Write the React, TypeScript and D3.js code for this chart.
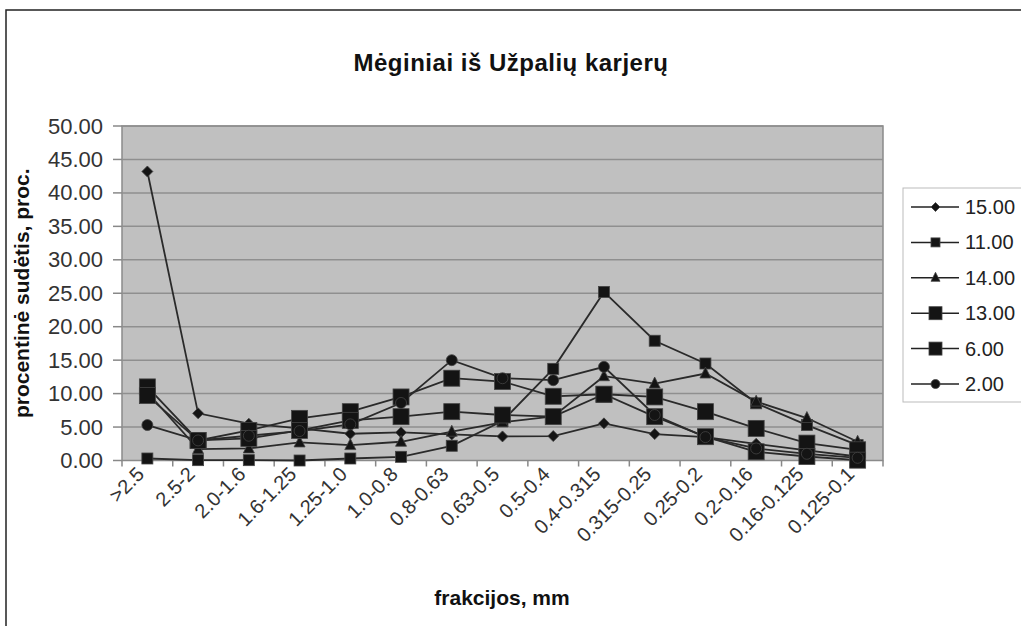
import React from "react";
import * as d3 from "d3";

const categories = [">2.5", "2.5-2", "2.0-1.6", "1.6-1.25", "1.25-1.0", "1.0-0.8", "0.8-0.63", "0.63-0.5", "0.5-0.4", "0.4-0.315", "0.315-0.25", "0.25-0.2", "0.2-0.16", "0.16-0.125", "0.125-0.1"];
const s15 = [43.2, 7.05, 5.5, 4.8, 4.0, 4.2, 3.9, 3.6, 3.65, 5.55, 3.95, 3.5, 2.5, 1.5, 0.6];
const s11 = [0.3, 0.05, 0.05, 0.0, 0.3, 0.55, 2.2, 5.9, 13.7, 25.2, 17.9, 14.5, 8.55, 5.3, 2.3];
const s14 = [10.2, 1.7, 1.8, 2.7, 2.3, 2.8, 4.3, 5.7, 6.6, 12.6, 11.5, 13.0, 8.8, 6.35, 2.8];
const s13 = [11.0, 3.0, 4.5, 6.3, 7.3, 9.5, 12.3, 11.8, 9.6, 9.9, 9.5, 7.3, 4.8, 2.6, 1.6];
const s6 = [9.7, 3.0, 3.3, 4.5, 6.0, 6.55, 7.3, 6.8, 6.55, 9.9, 6.55, 3.56, 1.3, 0.6, 0.05];
const s2 = [5.3, 3.0, 3.7, 4.4, 5.4, 8.6, 15.0, 12.3, 12.0, 14.0, 6.8, 3.5, 1.8, 1.0, 0.4];
const seriesNames = ["15.00", "11.00", "14.00", "13.00", "6.00", "2.00"];
const yTicks = [0, 5, 10, 15, 20, 25, 30, 35, 40, 45, 50];

const series = [
  { name: seriesNames[0], values: s15, marker: "diamond", size: 11 },
  { name: seriesNames[1], values: s11, marker: "square", size: 11 },
  { name: seriesNames[2], values: s14, marker: "triangle", size: 11 },
  { name: seriesNames[3], values: s13, marker: "square", size: 16 },
  { name: seriesNames[4], values: s6, marker: "square", size: 16 },
  { name: seriesNames[5], values: s2, marker: "circle", size: 11 },
];

const FONT = "'Liberation Sans', Arial, sans-serif";
const plot = { left: 122, top: 126, right: 883, bottom: 460.5 };

function Marker({ type, size, x, y }: { type: string; size: number; x: number; y: number }) {
  const h = size / 2;
  const fill = "#141414";
  const stroke = "#444";
  if (type === "square") return <rect x={x - h} y={y - h} width={size} height={size} fill={fill} stroke={stroke} strokeWidth={0.8} />;
  if (type === "circle") return <circle cx={x} cy={y} r={h} fill={fill} stroke={stroke} strokeWidth={0.8} />;
  if (type === "diamond") return <path d={`M${x},${y - h} L${x + h},${y} L${x},${y + h} L${x - h},${y} Z`} fill={fill} stroke={stroke} strokeWidth={0.8} />;
  return <path d={`M${x},${y - h - 1} L${x + h},${y + h - 1} L${x - h},${y + h - 1} Z`} fill={fill} stroke={stroke} strokeWidth={0.8} />;
}

export default function App() {
  const x = d3.scaleBand().domain(categories).range([plot.left, plot.right]);
  const y = d3.scaleLinear().domain([0, 50]).range([plot.bottom, plot.top]);
  const cx = (c: string) => (x(c) as number) + x.bandwidth() / 2;
  const line = d3.line<number>().x((_, i) => cx(categories[i])).y((d) => y(d));
  const boundaries = d3.range(categories.length + 1).map((i) => plot.left + i * x.bandwidth());
  const legendX = 903, legendY = 188;
  return (
    <svg width={1021} height={626} style={{ position: "absolute", left: 0, top: 0, background: "#fff" }} fontFamily={FONT}>
      <rect x={6} y={10} width={1030} height={640} fill="#fff" stroke="#222" strokeWidth={1.5} />
      <text x={511} y={71} textAnchor="middle" fontSize={24} fontWeight="bold" fill="#111" letterSpacing={0.5}>Mėginiai iš Užpalių karjerų</text>
      <rect x={plot.left} y={plot.top} width={plot.right - plot.left} height={plot.bottom - plot.top} fill="#c0c0c0" stroke="#8a8a8a" strokeWidth={1.5} />
      {yTicks.map((t) => (
        <g key={t}>
          {t > 0 && <line x1={plot.left} x2={plot.right} y1={y(t)} y2={y(t)} stroke="#8f8f8f" strokeWidth={1.5} />}
          <line x1={113} x2={plot.left} y1={y(t)} y2={y(t)} stroke="#888" strokeWidth={1.5} />
          <text x={103} y={y(t) + 7.5} textAnchor="end" fontSize={22} fill="#333">{t.toFixed(2)}</text>
        </g>
      ))}
      {boundaries.map((b, i) => (
        <line key={i} x1={b} x2={b} y1={plot.bottom} y2={plot.bottom + 6} stroke="#888" strokeWidth={1.5} />
      ))}
      {categories.map((c) => (
        <text key={c} transform={`translate(${cx(c) - 2},${plot.bottom + 15}) rotate(-45)`} textAnchor="end" fontSize={20} fill="#333">{c}</text>
      ))}
      <text x={502} y={605} textAnchor="middle" fontSize={21} fontWeight="bold" fill="#111">frakcijos, mm</text>
      <text transform={`translate(29,${(plot.top + plot.bottom) / 2}) rotate(-90)`} textAnchor="middle" fontSize={21} fontWeight="bold" fill="#111">procentinė sudėtis, proc.</text>
      {series.map((s) => (
        <path key={s.name} d={line(s.values) || ""} fill="none" stroke="#2a2a2a" strokeWidth={1.8} />
      ))}
      {series.map((s) => (
        <g key={s.name + "m"}>
          {s.values.map((v, i) => (
            <Marker key={i} type={s.marker} size={s.size} x={cx(categories[i])} y={y(v)} />
          ))}
        </g>
      ))}
      <rect x={legendX} y={legendY} width={140} height={214} fill="#fff" stroke="#bbb" strokeWidth={1} />
      {series.map((s, i) => {
        const ly = 207 + i * 35.4;
        return (
          <g key={s.name + "l"}>
            <line x1={911} x2={959} y1={ly} y2={ly} stroke="#222" strokeWidth={1.5} />
            <Marker type={s.marker} size={s.size === 16 ? 13 : 9} x={935.5} y={ly} />
            <text x={965} y={ly + 7} fontSize={20} fill="#222">{s.name}</text>
          </g>
        );
      })}
    </svg>
  );
}
